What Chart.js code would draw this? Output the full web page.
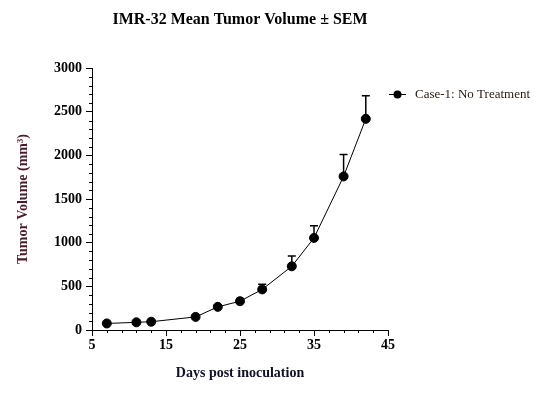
<!DOCTYPE html>
<html>
<head>
<meta charset="utf-8">
<script src="https://cdn.jsdelivr.net/npm/chart.js@4.4.1/dist/chart.umd.min.js"></script>
<style>
  body { margin: 0; background: #fff; }
</style>
</head>
<body>
<canvas id="tumorChart" width="546" height="412"></canvas>
<script>
// data
var days = [7, 11, 13, 19, 22, 25, 28, 32, 35, 39, 42];
var meanVol = [75, 88, 95, 150, 265, 330, 465, 730, 1055, 1760, 2420];
var semVol = [10, 12, 12, 20, 25, 30, 58, 118, 140, 250, 265];
var seriesName = 'Case-1: No Treatment';

var serif = 'Liberation Serif, Times New Roman, serif';

// upper error bars (mean + SEM) with a small cap
var errorBars = {
    id: 'errorBars',
    beforeDatasetsDraw: (chart) => {
        const ctx = chart.ctx;
        const yScale = chart.scales.y;
        const meta = chart.getDatasetMeta(0);
        ctx.save();
        ctx.strokeStyle = '#000';
        ctx.lineWidth = 1.5;
        meta.data.forEach((pt, i) => {
            const top = yScale.getPixelForValue(meanVol[i] + semVol[i]);
            ctx.beginPath();
            ctx.moveTo(pt.x, pt.y);
            ctx.lineTo(pt.x, top);
            ctx.moveTo(pt.x - 4, top);
            ctx.lineTo(pt.x + 4, top);
            ctx.stroke();
        });
        ctx.restore();
    }
};

// minor ticks on both axes
var minorTicks = {
    id: 'minorTicks',
    afterDraw: (chart) => {
        const ctx = chart.ctx;
        const xs = chart.scales.x, ys = chart.scales.y;
        const area = chart.chartArea;
        ctx.save();
        ctx.strokeStyle = '#000';
        ctx.lineWidth = 1;
        ctx.beginPath();
        for (let v = 7; v < 45; v += 2) {
            if ((v - 5) % 10 === 0) continue;
            const px = Math.round(xs.getPixelForValue(v)) + 0.5;
            ctx.moveTo(px, area.bottom);
            ctx.lineTo(px, area.bottom + 3);
        }
        for (let v = 100; v < 3000; v += 100) {
            if (v % 500 === 0) continue;
            const py = Math.round(ys.getPixelForValue(v)) + 0.5;
            ctx.moveTo(area.left - 3, py);
            ctx.lineTo(area.left, py);
        }
        ctx.stroke();
        ctx.restore();
    }
};

// legend: line with dot, then label
var sideLegend = {
    id: 'sideLegend',
    afterDraw: (chart) => {
        const ctx = chart.ctx;
        const y = 94.5;
        ctx.save();
        ctx.strokeStyle = '#000';
        ctx.lineWidth = 1;
        ctx.beginPath();
        ctx.moveTo(389, y);
        ctx.lineTo(406, y);
        ctx.stroke();
        ctx.fillStyle = '#000';
        ctx.beginPath();
        ctx.arc(397.5, y, 4, 0, Math.PI * 2);
        ctx.fill();
        ctx.fillStyle = '#2a1a10';
        ctx.font = '13px ' + serif;
        ctx.textBaseline = 'middle';
        ctx.fillText(seriesName, 415, y);
        ctx.restore();
    }
};

var tickFont = { family: serif, size: 14, weight: 'bold' };

var tumorConfig = {
    type: 'line',
    data: {
        datasets: [{
            label: seriesName,
            data: days.map((d, i) => ({ x: d, y: meanVol[i] })),
            borderColor: '#000',
            borderWidth: 1,
            backgroundColor: '#000',
            pointRadius: 4.5,
            pointBackgroundColor: '#000',
            pointBorderColor: '#000',
            tension: 0,
        }],
    },
    options: {
        responsive: false,
        animation: false,
        layout: { padding: { left: 0, right: 158, top: 0, bottom: 0 } },
        plugins: {
            legend: { display: false },
            tooltip: { enabled: false },
            title: {
                display: true,
                text: 'IMR-32 Mean Tumor Volume ± SEM',
                fullSize: false,
                color: '#000',
                font: { family: serif, size: 16, weight: 'bold' },
                padding: { top: 10, bottom: 39 },
            },
        },
        scales: {
            x: {
                type: 'linear',
                min: 5,
                max: 45,
                ticks: { stepSize: 10, color: '#000', font: tickFont, padding: 1, maxRotation: 0, callback: (v) => String(v) },
                grid: { drawOnChartArea: false, tickLength: 6, color: '#000' },
                border: { color: '#000' },
                title: {
                    display: true,
                    text: 'Days post inoculation',
                    color: '#10102a',
                    font: tickFont,
                    padding: { top: 0, bottom: 30 },
                },
                afterFit: (s) => { s.height = 82; },
            },
            y: {
                min: 0,
                max: 3000,
                ticks: { stepSize: 500, color: '#000', font: tickFont, padding: 4, callback: (v) => String(v) },
                grid: { drawOnChartArea: false, tickLength: 6, color: '#000' },
                border: { color: '#000' },
                title: {
                    display: true,
                    text: 'Tumor Volume (mm³)',
                    color: '#4b1a2c',
                    font: tickFont,
                    padding: { top: 15, bottom: 0 },
                },
                afterFit: (s) => { s.width = 92; },
            },
        },
    },
    plugins: [errorBars, minorTicks, sideLegend],
};

window.tumorChart = new Chart(document.getElementById('tumorChart'), tumorConfig);
</script>
</body>
</html>
